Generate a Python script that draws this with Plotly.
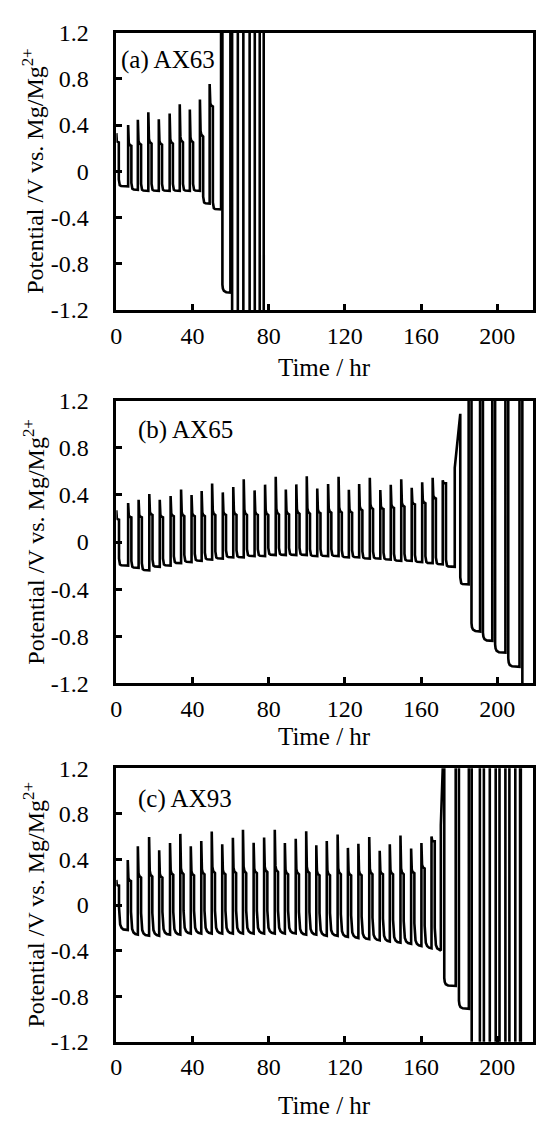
import plotly.graph_objects as go

# Off-scale levels used where the potential runs past the plotted window
HI, LO = 1.6, -1.6

# ---------------- (a) AX63 ----------------
a_t_up = [0.0, 6.2, 11.3, 16.8, 22.3, 28.0, 33.3, 38.6, 43.9, 49.0,
          55.0, 59.9, 63.8, 70.0, 75.3]
a_t_down = [1.3, 7.9, 13.0, 18.5, 24.0, 29.7, 35.0, 40.3, 45.6, 50.7,
            55.7, 60.8, 66.7, 72.7, 77.4]
a_peak = [0.33, 0.40, 0.445, 0.51, 0.45, 0.50, 0.58, 0.535, 0.62, 0.755,
          HI, HI, HI, HI, HI]
a_shoulder = [0.25, 0.22, 0.23, 0.24, 0.23, 0.24, 0.25, 0.25, 0.30, 0.56,
              HI, HI, HI, HI, HI]
a_trough = [-0.13, -0.16, -0.17, -0.17, -0.17, -0.17, -0.17, -0.17, -0.28, -0.33,
            -1.05, LO, LO, LO, LO]
a_end = 78.0

# ---------------- (b) AX65 ----------------
b_t_up = [0.0, 6.2, 11.7, 17.3, 22.8, 28.5, 34.0, 39.5, 44.8, 50.3,
          55.9, 61.4, 66.9, 72.6, 78.1, 83.7, 89.0, 94.5, 100.0, 105.5,
          111.2, 116.7, 122.1, 127.5, 133.1, 138.6, 144.1, 149.6, 155.1, 160.6,
          166.1, 171.4, 177.7, 185.0, 191.0, 197.4, 204.3, 211.7]
b_t_down = [1.4, 7.9, 13.4, 19.0, 24.5, 30.2, 35.7, 41.2, 46.5, 52.0,
            57.6, 63.1, 68.6, 74.3, 79.8, 85.4, 90.7, 96.2, 101.7, 107.2,
            112.9, 118.4, 123.8, 129.2, 134.8, 140.3, 145.8, 151.3, 156.8, 162.3,
            167.8, 173.1, 180.6, 186.5, 192.5, 198.9, 205.8, 213.2]
b_peak = [0.27, 0.331, 0.359, 0.409, 0.359, 0.392, 0.447, 0.40, 0.434, 0.497,
          0.422, 0.467, 0.533, 0.439, 0.488, 0.555, 0.447, 0.49, 0.56, 0.455,
          0.494, 0.555, 0.444, 0.494, 0.546, 0.442, 0.486, 0.533, 0.461, 0.508,
          0.546, 0.525, 0.63, HI, HI, HI, HI, HI]
b_shoulder = [0.19, 0.21, 0.21, 0.23, 0.21, 0.22, 0.22, 0.22, 0.22, 0.23,
              0.23, 0.23, 0.23, 0.23, 0.23, 0.235, 0.235, 0.24, 0.24, 0.245,
              0.25, 0.25, 0.25, 0.27, 0.28, 0.28, 0.29, 0.30, 0.32, 0.33,
              0.37, 0.50, 1.09, HI, HI, HI, HI, HI]
b_trough = [-0.20, -0.22, -0.24, -0.21, -0.20, -0.18, -0.17, -0.16, -0.15, -0.14,
            -0.13, -0.13, -0.12, -0.12, -0.11, -0.11, -0.11, -0.11, -0.12, -0.12,
            -0.12, -0.13, -0.13, -0.14, -0.14, -0.15, -0.16, -0.16, -0.17, -0.18,
            -0.19, -0.21, -0.36, -0.76, -0.84, -0.94, -1.06, LO]
b_end = 213.6

# ---------------- (c) AX93 ----------------
c_t_up = [0.0, 6.0, 11.3, 17.2, 22.5, 28.2, 33.6, 39.1, 44.6, 50.1,
          55.6, 61.2, 66.5, 72.1, 77.6, 83.2, 88.5, 94.2, 99.7, 105.0,
          110.5, 116.2, 121.6, 127.1, 132.8, 138.3, 143.6, 149.2, 154.8, 160.2,
          165.5, 170.4, 178.2, 185.1, 190.9, 196.1, 201.2, 206.4, 212.0]
c_t_down = [1.4, 7.7, 13.0, 18.9, 24.2, 29.9, 35.3, 40.8, 46.3, 51.8,
            57.3, 62.9, 68.2, 73.8, 79.3, 84.9, 90.2, 95.9, 101.4, 106.7,
            112.2, 117.9, 123.3, 128.8, 134.5, 140.0, 145.3, 150.9, 156.5, 161.9,
            167.2, 172.2, 179.9, 186.6, 193.0, 199.2, 204.3, 209.5, 212.4]
c_peak = [0.22, 0.395, 0.515, 0.596, 0.481, 0.544, 0.624, 0.515, 0.561, 0.644,
          0.532, 0.59, 0.661, 0.547, 0.593, 0.66, 0.544, 0.581, 0.647, 0.524,
          0.561, 0.618, 0.501, 0.538, 0.596, 0.476, 0.532, 0.609, 0.495, 0.544,
          0.601, 0.70, HI, HI, HI, HI, HI, HI, HI]
c_shoulder = [0.17, 0.21, 0.24, 0.25, 0.24, 0.265, 0.27, 0.26, 0.27, 0.28,
              0.27, 0.28, 0.28, 0.28, 0.29, 0.29, 0.27, 0.27, 0.28, 0.26,
              0.26, 0.27, 0.26, 0.26, 0.27, 0.27, 0.27, 0.27, 0.28, 0.32,
              0.56, HI, HI, HI, HI, HI, HI, HI, HI]
c_trough = [-0.22, -0.26, -0.27, -0.27, -0.26, -0.26, -0.25, -0.25, -0.25, -0.25,
            -0.25, -0.25, -0.25, -0.25, -0.25, -0.25, -0.25, -0.26, -0.26, -0.27,
            -0.27, -0.28, -0.29, -0.30, -0.31, -0.32, -0.33, -0.34, -0.36, -0.38,
            -0.40, -0.71, -0.91, LO, LO, LO, LO, LO, LO]
c_end = 212.6

x_ticks = [0, 40, 80, 120, 160, 200]
y_ticks = [-1.2, -0.8, -0.4, 0, 0.4, 0.8, 1.2]
y_ticktext = ["-1.2", "-0.8", "-0.4", "0", "0.4", "0.8", "1.2"]

# settling of the potential after each drop: (hours after drop, offset above trough)
SHARP = [(0.0, 0.06), (0.15, 0.025), (0.5, 0.01), (1.2, 0.003)]
GRADUAL = [(0.0, 0.20), (0.2, 0.10), (0.6, 0.05), (1.3, 0.02), (2.3, 0.006)]
FLOOR = [(0.0, 0.07), (0.25, 0.035), (0.8, 0.015), (2.0, 0.004)]


def cycle_curve(t_up, t_down, peak, shoulder, trough, t_end, settle):
    xs, ys = [], []
    n = len(t_up)
    for k in range(n):
        a, b = t_up[k], t_down[k]
        P, S, T = peak[k], shoulder[k], trough[k]
        nxt = t_up[k + 1] if k + 1 < n else t_end
        if k > 0:
            xs.append(a)
            ys.append(trough[k - 1])
        xs.append(a)
        ys.append(P)
        if P >= S:
            shape = [(0.08, 0.35), (0.2, 0.15), (0.45, 0.05), (1.0, 0.0)]
        else:
            shape = [(0.5, 0.5), (1.0, 0.0)]
        for f, w in shape:
            xs.append(a + f * (b - a))
            ys.append(S + w * (P - S))
        prof = FLOOR if T < -0.5 else settle
        for dt, off in prof:
            if b + dt < nxt:
                xs.append(b + dt)
                ys.append(T + off)
        xs.append(nxt)
        ys.append(T)
    return xs, ys


panels = [
    ("(a) AX63", a_t_up, a_t_down, a_peak, a_shoulder, a_trough, a_end, SHARP),
    ("(b) AX65", b_t_up, b_t_down, b_peak, b_shoulder, b_trough, b_end, SHARP),
    ("(c) AX93", c_t_up, c_t_down, c_peak, c_shoulder, c_trough, c_end, GRADUAL),
]

W, H = 536, 1131
# plot boxes in pixels: (top, bottom)
boxes = [(20, 304), (397, 686), (773, 1053)]
X0, X1 = 112, 535
label_pos = [(115, 48), (132, 427), (132, 805)]
xtitle_y = [363, 741, 1118]

FONT = "Liberation Serif, Times New Roman, serif"


def px_x(p):
    return p / W


def px_y(p):
    return 1 - p / H


fig = go.Figure()
annotations = []
for i, (name, tu, td, pk, sh, tr, te, prof) in enumerate(panels):
    xs, ys = cycle_curve(tu, td, pk, sh, tr, te, prof)
    sfx = "" if i == 0 else str(i + 1)
    fig.add_trace(go.Scatter(
        x=xs, y=ys, mode="lines",
        line=dict(color="black", width=2.6),
        xaxis="x" + sfx, yaxis="y" + sfx,
        showlegend=False, hoverinfo="skip",
    ))
    top, bot = boxes[i]
    common = dict(
        showline=True, linecolor="black", linewidth=2.5, mirror=True,
        ticks="inside", ticklen=6, tickwidth=2.5, tickcolor="black",
        showgrid=False, zeroline=False,
        tickfont=dict(family=FONT, size=24, color="black"),
    )
    fig.update_layout(**{
        "xaxis" + sfx: dict(
            domain=[px_x(X0), px_x(X1)], range=[0, 218.8],
            tickvals=x_ticks, anchor="y" + sfx, ticklabelstandoff=2,
            **common),
        "yaxis" + sfx: dict(
            domain=[px_y(bot), px_y(top)], range=[-1.2, 1.2],
            tickvals=y_ticks, ticktext=y_ticktext, anchor="x" + sfx,
            ticklabelstandoff=20,
            **common),
    })
    lx, ly = label_pos[i]
    annotations.append(dict(
        text=name, x=px_x(lx), y=px_y(ly), xref="paper", yref="paper",
        xanchor="left", yanchor="middle", showarrow=False,
        font=dict(family=FONT, size=25, color="black")))
    annotations.append(dict(
        text="Time / hr", x=px_x((X0 + X1) / 2), y=px_y(xtitle_y[i]),
        xref="paper", yref="paper", xanchor="center", yanchor="middle",
        showarrow=False, font=dict(family=FONT, size=25, color="black")))
    annotations.append(dict(
        text="Potential /V vs. Mg/Mg<sup>2+</sup>", textangle=-90,
        x=px_x(28), y=px_y((top + bot) / 2), xref="paper", yref="paper",
        xanchor="center", yanchor="middle", showarrow=False,
        font=dict(family=FONT, size=24, color="black")))

fig.update_layout(
    width=W, height=H, margin=dict(l=0, r=0, t=0, b=0),
    paper_bgcolor="white", plot_bgcolor="white",
    annotations=annotations,
)

fig.write_html("out.html")
